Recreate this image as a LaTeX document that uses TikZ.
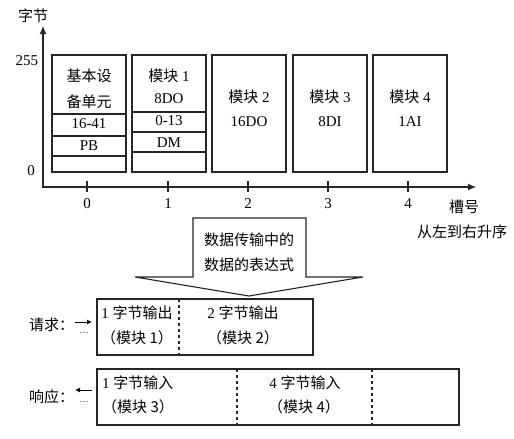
\documentclass[tikz,border=0pt]{standalone}
\usepackage{fontspec}
\setmainfont{Liberation Serif}
\newfontfamily\cjk{Noto Sans CJK SC}
\usetikzlibrary{arrows.meta}

\begin{document}
\begin{tikzpicture}[x=1pt,y=-1pt]
\tikzstyle{txt}=[inner sep=0pt, font=\fontsize{15}{18}\selectfont]
\tikzstyle{small}=[inner sep=0pt, font=\fontsize{9}{10}\selectfont]
\tikzstyle{slot}=[draw=black!85, line width=1.1pt]
\tikzstyle{sep}=[draw=black!85, line width=1.1pt, dashed]

\useasboundingbox (0,0) rectangle (514,439);

% axes
\coordinate (o) at (43,187);
\coordinate (ytop) at (43,26);
\coordinate (xend) at (476,187);
\draw[slot, {Latex[length=8pt,width=7pt]}-{Latex[length=8pt,width=7pt]}] (ytop) -- (o) -- (xend);
\node[txt] (ylab) at (33,16) {\cjk 字节};
\node[txt] (y255) at (27,61) {255};
\node[txt] (y0) at (31,171) {0};
\foreach \i/\x in {0/87,1/168,2/248,3/328,4/408} {
\draw[slot] (\x,181) -- (\x,192);
\node[txt] (t\i) at (\x,204) {\i};
}
\node[txt] (xlab) at (464,207) {\cjk 槽号};
\node[txt] (xnote) at (462,232) {\cjk 从左到右升序};

% slots
\foreach \x in {52,132,212,293,373} {
\draw[slot] (\x,55) rectangle ++(74,117);
}
\foreach \y in {114,136,156} {
\draw[slot] (52,\y) -- ++(74,0);
}
\foreach \y in {112,132,152} {
\draw[slot] (132,\y) -- ++(74,0);
}

\node[txt] (b0a) at (89,76) {\cjk 基本设};
\node[txt] (b0b) at (89,102) {\cjk 备单元};
\node[txt] (b0c) at (89,124) {16-41};
\node[txt] (b0d) at (89,146) {PB};

\node[txt] (b1a) at (169,76) {{\cjk 模块} 1};
\node[txt] (b1b) at (169,99) {8DO};
\node[txt] (b1c) at (169,121) {0-13};
\node[txt] (b1d) at (169,143) {DM};

\foreach \i/\x/\t in {2/249/16DO,3/330/8DI,4/410/1AI} {
\node[txt] (b\i a) at (\x,97) {{\cjk 模块} \i};
\node[txt] (b\i b) at (\x,122) {\t};
}

% big arrow
\draw[slot] (193,218) -- (306,218) -- (306,277) -- (363,277) -- (249,296)
  -- (135,277) -- (193,277) -- cycle;
\node[txt] (expr1) at (249,240) {\cjk 数据传输中的};
\node[txt] (expr2) at (249,265) {\cjk 数据的表达式};

% request
\draw[slot] (97,299) rectangle (313,355);
\draw[sep] (179,299) -- (179,355);
\node[txt] (q1a) at (137,313) {1 {\cjk 字节输出}};
\node[txt] (q1b) at (137,338) {\cjk （模块 1）};
\node[txt] (q2a) at (243,313) {2 {\cjk 字节输出}};
\node[txt] (q2b) at (243,338) {\cjk （模块 2）};
\node[txt, anchor=west] (req) at (29,325) {\cjk 请求：};
\coordinate (reqA) at (75,322);
\coordinate (reqB) at (92,322);
\draw[line width=0.9pt, -{Latex[length=5pt,width=5pt]}] (reqA) -- (reqB);
\node[small] (reqdots) at (84,333) {\dots};

% response
\draw[slot] (97,369) rectangle (459,425);
\draw[sep] (237,369) -- (237,425);
\draw[sep] (372,369) -- (372,425);
\node[txt, anchor=west] (r1a) at (102,383) {1 {\cjk 字节输入}};
\node[txt, anchor=west] (r1b) at (102,407) {\cjk （模块 3）};
\node[txt] (r2a) at (305,383) {4 {\cjk 字节输入}};
\node[txt] (r2b) at (304,407) {\cjk （模块 4）};
\node[txt, anchor=west] (resp) at (29,397) {\cjk 响应：};
\coordinate (respA) at (92,390);
\coordinate (respB) at (75,390);
\draw[line width=0.9pt, -{Latex[length=5pt,width=5pt]}] (respA) -- (respB);
\node[small] (respdots) at (84,402) {\dots};

\end{tikzpicture}
\end{document}
